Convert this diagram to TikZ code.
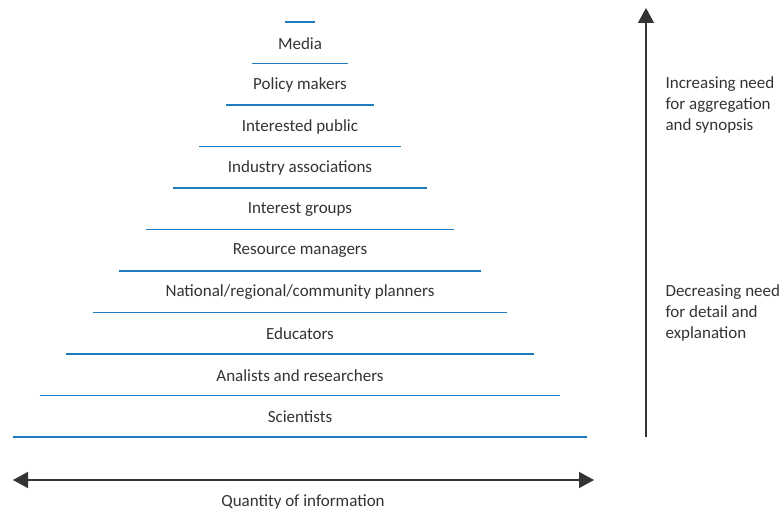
\documentclass[tikz,border=0pt]{standalone}
\usepackage{fontspec}
\setmainfont{Carlito}
\usetikzlibrary{arrows.meta}
\definecolor{tierblue}{HTML}{1F7BC0}
\definecolor{axisgray}{HTML}{333333}
\begin{document}
\begin{tikzpicture}[x=1pt, y=-1pt,
  tier/.style={tierblue, line width=1.2pt},
  axis/.style={axisgray, line width=1.5pt},
  every node/.style={font=\fontsize{17}{21}\selectfont, text=black!80}]
\useasboundingbox (0,0) rectangle (783,513);
% blue tier lines, bottom to top
\foreach \hw [count=\k from 0] in {287,260.4,233.8,207.2,180.6,154,127.4,100.8,74.2,48,15}
  \draw[tier] (300-\hw,437-41.5*\k) -- (300+\hw,437-41.5*\k);
% audiences between the lines
\foreach \lbl [count=\i] in {Scientists, Analists and researchers, Educators,
    {National/regional/community planners}, Resource managers, Interest groups,
    Industry associations, Interested public, Policy makers, Media}
  \node (aud\i) at (300,458.5-41.5*\i) {\lbl};
% axes
\coordinate (qL) at (13,480);
\coordinate (qR) at (594,480);
\coordinate (nB) at (646,437);
\coordinate (nT) at (646,8);
\draw[axis, {Triangle[width=16pt,length=15pt]}-{Triangle[width=16pt,length=15pt]}] (qL) -- (qR);
\draw[axis, -{Triangle[width=16pt,length=15pt]}] (nB) -- (nT);
\node (qty) at (303,502) {Quantity of information};
\node[anchor=west, align=left] (agg) at (662,105) {Increasing need\\for aggregation\\and synopsis};
\node[anchor=west, align=left] (det) at (662,313) {Decreasing need\\for detail and\\explanation};
\end{tikzpicture}
\end{document}
